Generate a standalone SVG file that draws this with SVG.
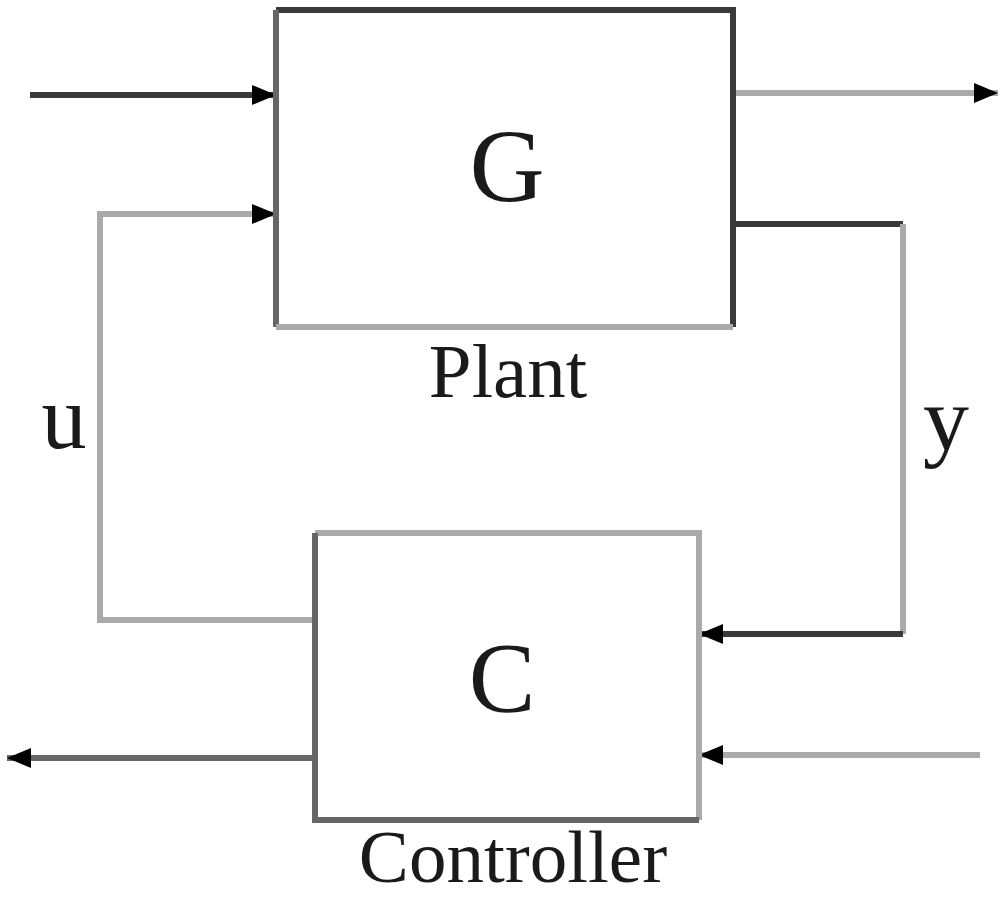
<svg xmlns="http://www.w3.org/2000/svg" width="1000" height="900" viewBox="0 0 1000 900">
<style>
.dk{fill:none;stroke:#3a3a3a;stroke-width:6}
.md{fill:none;stroke:#666;stroke-width:6}
.lt{fill:none;stroke:#aaa;stroke-width:6}
.t{font-family:"Liberation Serif",serif;fill:#1a1a1a;text-anchor:middle}
</style>
<defs>
<marker id="ah" markerUnits="userSpaceOnUse" markerWidth="26" markerHeight="24" refX="24" refY="12" orient="auto">
<path d="M0,2 L24,12 L0,22 Z" fill="#000"/>
</marker>
</defs>
<g id="connectors">
<path class="dk" d="M30,95 H276" marker-end="url(#ah)"/>
<path class="lt" d="M315,620 H100 V214 H276" marker-end="url(#ah)"/>
<path class="lt" d="M733,93 H998" marker-end="url(#ah)"/>
<path class="dk" d="M733,224 H903"/>
<path class="lt" d="M903,224 V634"/>
<path class="dk" d="M903,634 H699" marker-end="url(#ah)"/>
<path class="md" d="M315,758 H7" marker-end="url(#ah)"/>
<path class="lt" d="M980,755 H699" marker-end="url(#ah)"/>
</g>
<g id="plant">
<path class="dk" d="M276,10 H733 V327"/>
<path class="md" d="M276,10 V327"/>
<path class="lt" d="M276,327 H733"/>
<text class="t" x="507" y="201" font-size="104">G</text>
<text class="t" x="508" y="397" font-size="77">Plant</text>
</g>
<g id="controller">
<path class="lt" d="M315,533 H699 V820"/>
<path class="md" d="M315,533 V820 H699"/>
<text class="t" x="502" y="711" font-size="100">C</text>
<text class="t" x="513" y="882" font-size="75">Controller</text>
</g>
<g id="labels">
<text class="t" x="64" y="448" font-size="90">u</text>
<text class="t" x="946" y="450" font-size="92">y</text>
</g>
</svg>
